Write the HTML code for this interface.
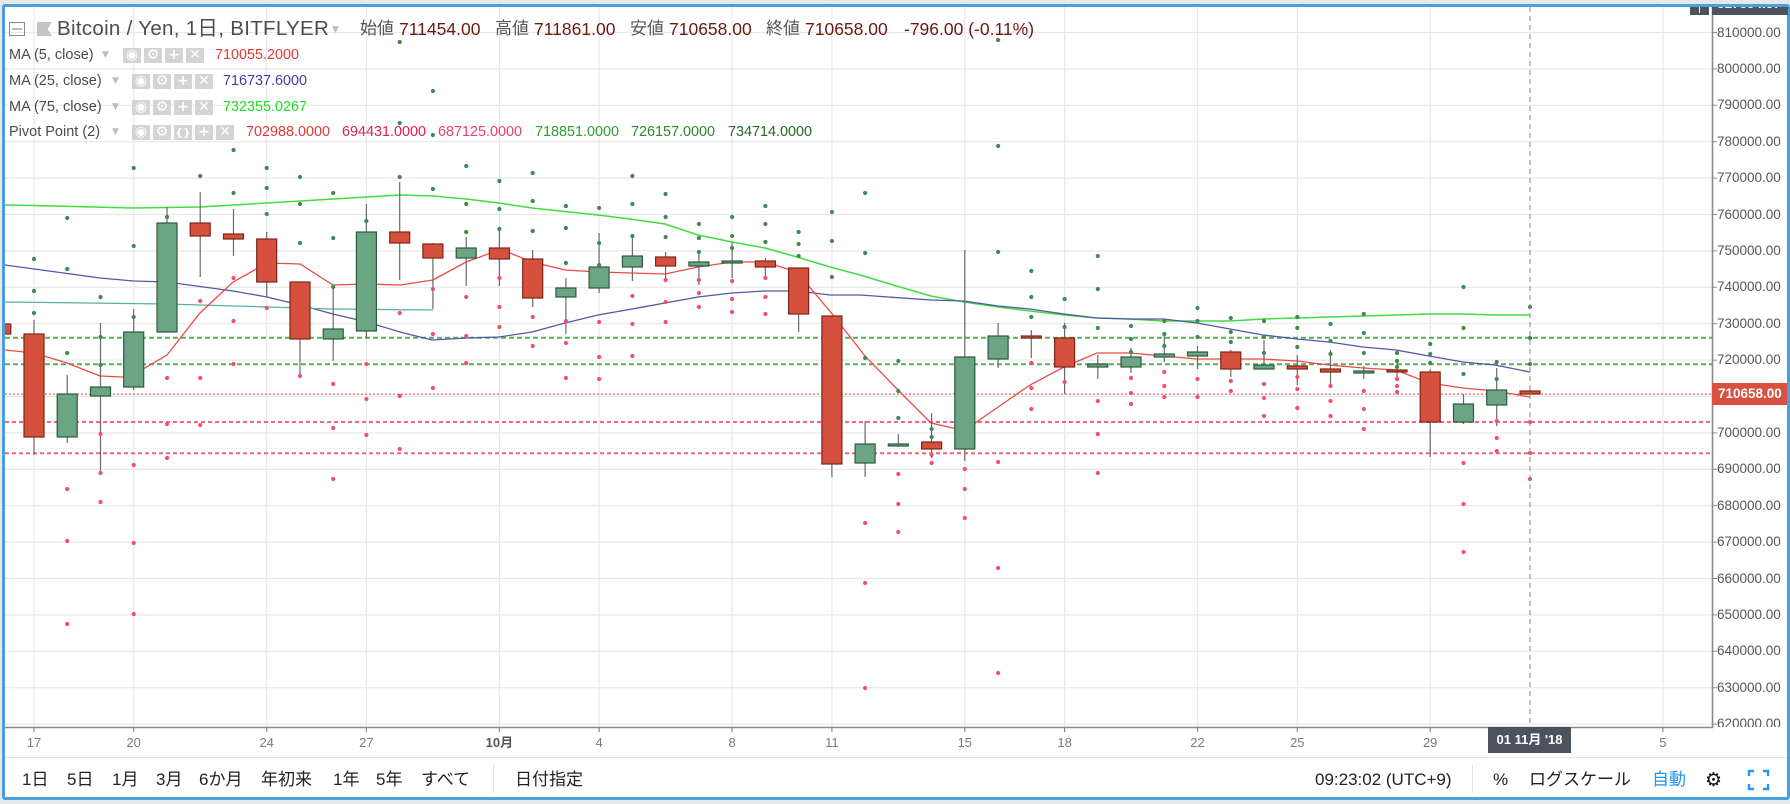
<!DOCTYPE html>
<html><head><meta charset="utf-8">
<style>
*{margin:0;padding:0;box-sizing:border-box}
html,body{width:1790px;height:804px;overflow:hidden;background:#e6e9ec;font-family:"Liberation Sans","Noto Sans CJK JP",sans-serif}
#frame{position:absolute;left:2px;top:4px;width:1788px;height:796px;border:3px solid #4aa0db;border-radius:3px;background:#fff}
.t{position:absolute;white-space:nowrap;line-height:20px;height:20px}
.h1{font-size:20.5px;color:#4d4d4d;letter-spacing:0.3px}
.ol{font-size:17px;color:#555}
.ov{font-size:17.5px;color:#6a1a10}
.lg{font-size:14.5px;color:#4a4a4a}
.lv{font-size:14.4px}
.car{font-size:9px;color:#bdbdbd;font-family:"DejaVu Sans",sans-serif}
.ic{position:absolute;width:18px;height:15px;background:#d4d4d4;color:#fff;font-family:"DejaVu Sans",sans-serif;font-size:14px;line-height:15px;text-align:center;font-weight:bold;overflow:hidden}
.pa{position:absolute;left:1717px;font-size:13.5px;color:#555;line-height:16px;height:16px}
.da{position:absolute;top:735px;font-size:13px;color:#7a7a7a;line-height:16px;width:60px;text-align:center}
.tb{font-size:17px;color:#222}
</style></head><body>
<div id="frame"></div>
<svg width="1790" height="804" style="position:absolute;left:0;top:0">
<defs><clipPath id="c"><rect x="5" y="7" width="1707" height="720"/></clipPath>
<clipPath id="pc"><rect x="1712" y="7" width="76" height="720"/></clipPath></defs>
<g clip-path="url(#c)">
<path d="M5 32.5H1712M5 68.9H1712M5 105.3H1712M5 141.7H1712M5 178.1H1712M5 214.5H1712M5 250.9H1712M5 287.3H1712M5 323.7H1712M5 360.1H1712M5 396.5H1712M5 432.9H1712M5 469.3H1712M5 505.7H1712M5 542.1H1712M5 578.5H1712M5 614.9H1712M5 651.3H1712M5 687.7H1712M5 724.1H1712" stroke="#e8e8e8" stroke-width="1.2" fill="none"/>
<path d="M34 7V727M133.7 7V727M266.7 7V727M366.4 7V727M499.4 7V727M599.1 7V727M732.1 7V727M831.9 7V727M964.8 7V727M1064.6 7V727M1197.5 7V727M1297.3 7V727M1430.2 7V727M1662.9 7V727" stroke="#e8e8e8" stroke-width="1.2" fill="none"/>
<path d="M5 337.7H1712M5 364.3H1712" stroke="#55b255" stroke-width="2" stroke-dasharray="5 3" fill="none"/>
<path d="M5 422H1712M5 453.2H1712" stroke="#f5647c" stroke-width="2" stroke-dasharray="4 3" fill="none"/>
<path d="M5 394.1H1712" stroke="#e53a3a" stroke-width="1" stroke-dasharray="2 2" fill="none"/>
<polyline fill="none" stroke="#40dc40" stroke-width="1.5" points="5,205 34,205.5 133.7,208 200,207 267,203 367,197 400,195 433,196 466,199 499,203 532,208 598,215 630,219 665,224 698,235 732,242 765,248 797,257 830,267 860,275 893,285 931,296 964,302 998,307 1030,311 1064,315 1097,318 1130,319 1163,321 1197,321 1230,321 1263,319 1297,318 1363,316 1429,314 1463,314 1495,315 1530,315"/>
<polyline fill="none" stroke="#5456a8" stroke-width="1.3" points="5,265 100,278 133.7,281 167,282 233,291 267,297 300,305 333,314 367,322 400,332 432,340 466,338 499,337 532,332 565,323 598,315 632,309 665,303 698,297 732,293 765,291 797,291 830,295 860,295 931,300 964,301 998,306 1030,309 1064,314 1097,318 1130,319 1163,319 1197,323 1230,329 1263,335 1297,339 1329,342 1363,347 1396,350 1429,356 1463,362 1495,365 1530,372"/>
<polyline fill="none" stroke="#5aaea6" stroke-width="1.3" points="5,302 167,304 333,309 433,310"/>
<polyline fill="none" stroke="#ee4b43" stroke-width="1.3" points="5,350 34,353 67,363 100,376 123,377 143,369 167,355 200,313 233,282 267,263 300,264 333,285 367,284 400,285 433,280 466,262 499,250 510,253 532,262 565,270 598,272 632,273 665,274 698,267 732,262 765,262 797,272 833,315 865,356 898,390 931,423 957,429 975,423 1030,385 1064,367 1097,353 1130,353 1163,356 1197,359 1230,359 1263,359 1297,361 1329,365 1363,368 1396,370 1429,383 1463,388 1495,391 1530,397"/>
<path stroke="#6a6a6a" stroke-width="1.2" fill="none" d="M0.8 318V340M34 320V455M67.2 375V443M100.5 323V473M133.7 309V390M167 207V332M200.2 192V277M233.5 209V256M266.7 232V297M300 282V377M333.2 287V361M366.4 204V338M399.7 182V280M432.9 243V309M466.2 237V286M499.4 228V286M532.7 250V307M565.9 278V334M599.1 233V293M632.4 237V281M665.6 252V278M698.9 252V285M732.1 242V278M765.4 258V278M798.6 268V332M831.9 316V477M865.1 421V477M898.3 434V447M931.6 413V458M964.8 250V461M998.1 323V368M1031.3 330V358M1064.6 323V394M1097.8 355V379M1131 348V373M1164.3 333V362M1197.5 346V369M1230.8 350V377M1264 340V369M1297.3 355V385M1330.5 350V386M1363.8 366V379M1397 360V377M1430.2 369V457M1463.5 394V424M1496.7 368V426M1530 389V394"/>
<g fill="#d6503e" stroke="#7b2418" stroke-width="1.2">
<rect x="-9.2" y="324" width="20" height="10"/>
<rect x="24" y="334" width="20" height="103"/>
<rect x="190.2" y="223" width="20" height="13"/>
<rect x="223.5" y="234" width="20" height="5"/>
<rect x="256.7" y="239" width="20" height="43"/>
<rect x="290" y="282" width="20" height="57"/>
<rect x="389.7" y="232" width="20" height="11"/>
<rect x="422.9" y="244" width="20" height="14"/>
<rect x="489.4" y="248" width="20" height="11"/>
<rect x="522.7" y="259" width="20" height="39"/>
<rect x="655.6" y="257" width="20" height="9"/>
<rect x="755.4" y="261" width="20" height="6"/>
<rect x="788.6" y="268" width="20" height="46"/>
<rect x="821.9" y="316" width="20" height="148"/>
<rect x="921.6" y="442" width="20" height="7"/>
<rect x="1021.3" y="336" width="20" height="2"/>
<rect x="1054.6" y="338" width="20" height="29"/>
<rect x="1220.8" y="352" width="20" height="17"/>
<rect x="1287.3" y="366" width="20" height="3"/>
<rect x="1320.5" y="369" width="20" height="3"/>
<rect x="1387" y="370" width="20" height="2"/>
<rect x="1420.2" y="372" width="20" height="50"/>
<rect x="1520" y="391" width="20" height="3"/>
</g>
<g fill="#6ba583" stroke="#2b5b3c" stroke-width="1.2">
<rect x="57.2" y="394" width="20" height="43"/>
<rect x="90.5" y="387" width="20" height="9"/>
<rect x="123.7" y="332" width="20" height="55"/>
<rect x="157" y="223" width="20" height="109"/>
<rect x="323.2" y="329" width="20" height="10"/>
<rect x="356.4" y="232" width="20" height="99"/>
<rect x="456.2" y="248" width="20" height="10"/>
<rect x="555.9" y="288" width="20" height="9"/>
<rect x="589.1" y="267" width="20" height="21"/>
<rect x="622.4" y="256" width="20" height="11"/>
<rect x="688.9" y="262" width="20" height="4"/>
<rect x="722.1" y="261" width="20" height="2"/>
<rect x="855.1" y="444" width="20" height="19"/>
<rect x="888.3" y="444" width="20" height="2"/>
<rect x="954.8" y="357" width="20" height="92"/>
<rect x="988.1" y="336" width="20" height="23"/>
<rect x="1087.8" y="364" width="20" height="3"/>
<rect x="1121" y="357" width="20" height="10"/>
<rect x="1154.3" y="354" width="20" height="3"/>
<rect x="1187.5" y="352" width="20" height="4"/>
<rect x="1254" y="365" width="20" height="4"/>
<rect x="1353.8" y="371" width="20" height="2"/>
<rect x="1453.5" y="404" width="20" height="18"/>
<rect x="1486.7" y="390" width="20" height="15"/>
</g>
<path stroke="#3f8a4f" stroke-width="4.2" stroke-linecap="round" fill="none" d="M34 259h.01M34 291h.01M34 313h.01M67.2 218h.01M67.2 269h.01M67.2 353h.01M100.5 297h.01M100.5 337h.01M100.5 365h.01M133.7 168h.01M133.7 246h.01M133.7 317h.01M167 217h.01M200.2 50h.01M200.2 128h.01M200.2 176h.01M233.5 150h.01M233.5 193h.01M266.7 168h.01M266.7 188h.01M266.7 214h.01M300 177h.01M300 204h.01M300 243h.01M333.2 193h.01M333.2 238h.01M333.2 287h.01M366.4 221h.01M399.7 42h.01M399.7 123h.01M399.7 177h.01M432.9 91h.01M432.9 135h.01M432.9 189h.01M466.2 166h.01M466.2 204h.01M466.2 232h.01M499.4 181h.01M499.4 209h.01M499.4 229h.01M532.7 173h.01M532.7 201h.01M532.7 231h.01M565.9 206h.01M565.9 228h.01M565.9 263h.01M599.1 208h.01M599.1 243h.01M599.1 265h.01M632.4 176h.01M632.4 204h.01M632.4 236h.01M665.6 194h.01M665.6 217h.01M665.6 237h.01M698.9 224h.01M698.9 238h.01M698.9 252h.01M732.1 217h.01M732.1 236h.01M732.1 248h.01M765.4 206h.01M765.4 224h.01M765.4 242h.01M798.6 232h.01M798.6 244h.01M798.6 256h.01M831.9 212h.01M831.9 241h.01M831.9 277h.01M865.1 193h.01M865.1 253h.01M865.1 358h.01M898.3 361h.01M898.3 391h.01M898.3 418h.01M931.6 429h.01M931.6 437h.01M998.1 40h.01M998.1 146h.01M998.1 252h.01M1031.3 271h.01M1031.3 297h.01M1031.3 317h.01M1064.6 299h.01M1064.6 327h.01M1097.8 256h.01M1097.8 289h.01M1097.8 328h.01M1131 326h.01M1131 339h.01M1131 352h.01M1164.3 321h.01M1164.3 334h.01M1164.3 346h.01M1197.5 308h.01M1197.5 321h.01M1197.5 337h.01M1230.8 318h.01M1230.8 332h.01M1230.8 342h.01M1264 321h.01M1264 337h.01M1264 353h.01M1297.3 317h.01M1297.3 328h.01M1297.3 347h.01M1330.5 324h.01M1330.5 341h.01M1330.5 354h.01M1363.8 314h.01M1363.8 333h.01M1363.8 353h.01M1397 353h.01M1397 361h.01M1397 367h.01M1430.2 344h.01M1430.2 354h.01M1430.2 363h.01M1463.5 287h.01M1463.5 328h.01M1463.5 374h.01M1496.7 362h.01M1496.7 379h.01M1530 307h.01M1530 338h.01M1530 364h.01"/>
<path stroke="#f2506e" stroke-width="4.2" stroke-linecap="round" fill="none" d="M67.2 489h.01M67.2 541h.01M67.2 624h.01M100.5 434h.01M100.5 473h.01M100.5 502h.01M133.7 465h.01M133.7 543h.01M133.7 614h.01M167 378h.01M167 424h.01M167 458h.01M200.2 301h.01M200.2 378h.01M200.2 425h.01M233.5 278h.01M233.5 321h.01M233.5 364h.01M266.7 308h.01M300 376h.01M333.2 384h.01M333.2 428h.01M333.2 479h.01M366.4 364h.01M366.4 399h.01M366.4 435h.01M399.7 313h.01M399.7 396h.01M399.7 449h.01M432.9 289h.01M432.9 334h.01M432.9 388h.01M466.2 297h.01M466.2 336h.01M466.2 363h.01M499.4 278h.01M499.4 307h.01M499.4 327h.01M532.7 317h.01M532.7 346h.01M565.9 321h.01M565.9 343h.01M565.9 378h.01M599.1 322h.01M599.1 357h.01M599.1 379h.01M632.4 296h.01M632.4 324h.01M632.4 356h.01M665.6 280h.01M665.6 302h.01M665.6 322h.01M698.9 280h.01M698.9 293h.01M698.9 307h.01M732.1 281h.01M732.1 299h.01M732.1 312h.01M765.4 278h.01M765.4 297h.01M765.4 314h.01M865.1 523h.01M865.1 583h.01M865.1 688h.01M898.3 474h.01M898.3 504h.01M898.3 532h.01M931.6 455h.01M931.6 463h.01M964.8 469h.01M964.8 489h.01M964.8 518h.01M998.1 462h.01M998.1 568h.01M998.1 673h.01M1031.3 363h.01M1031.3 388h.01M1031.3 409h.01M1064.6 382h.01M1097.8 401h.01M1097.8 434h.01M1097.8 473h.01M1131 378h.01M1131 393h.01M1131 404h.01M1164.3 372h.01M1164.3 386h.01M1164.3 397h.01M1197.5 379h.01M1197.5 397h.01M1230.8 381h.01M1230.8 391h.01M1264 384h.01M1264 398h.01M1264 416h.01M1297.3 377h.01M1297.3 389h.01M1297.3 408h.01M1330.5 386h.01M1330.5 401h.01M1330.5 416h.01M1363.8 391h.01M1363.8 409h.01M1363.8 429h.01M1397 379h.01M1397 386h.01M1397 392h.01M1463.5 463h.01M1463.5 504h.01M1463.5 552h.01M1496.7 421h.01M1496.7 438h.01M1496.7 451h.01M1530 422h.01M1530 453h.01M1530 479h.01"/>
<path d="M1530 7V727" stroke="#888" stroke-width="1" stroke-dasharray="5 4" fill="none"/>
</g>
<path d="M5 727.5H1713M1712.5 7V728" stroke="#8a8a8a" stroke-width="1.6" fill="none"/>
<path d="M1712 32.5h5M1712 68.9h5M1712 105.3h5M1712 141.7h5M1712 178.1h5M1712 214.5h5M1712 250.9h5M1712 287.3h5M1712 323.7h5M1712 360.1h5M1712 396.5h5M1712 432.9h5M1712 469.3h5M1712 505.7h5M1712 542.1h5M1712 578.5h5M1712 614.9h5M1712 651.3h5M1712 687.7h5M1712 724.1h5" stroke="#8a8a8a" stroke-width="1" fill="none" clip-path="url(#pc)"/>
<path d="M34 727V732M133.7 727V732M266.7 727V732M366.4 727V732M499.4 727V732M599.1 727V732M732.1 727V732M831.9 727V732M964.8 727V732M1064.6 727V732M1197.5 727V732M1297.3 727V732M1430.2 727V732M1662.9 727V732" stroke="#8a8a8a" stroke-width="1.2" fill="none"/>
<path d="M5 757.5H1787M493.5 765V793M1472.5 765V793" stroke="#e2e4e6" stroke-width="1" fill="none"/>
<polygon points="37,22 52,22 47.5,29 52,36 37,36" fill="#c4c4c4"/>
<rect x="9.5" y="22.5" width="15" height="13" fill="none" stroke="#8a8a8a" stroke-width="1"/>
<path d="M12 29H22" stroke="#8a8a8a" stroke-width="1.2"/>
<path d="M1749 776V771H1754M1763 771H1768V776M1768 784V789H1763M1754 789H1749V784" stroke="#2196f3" stroke-width="2.4" fill="none"/>
<rect x="1690" y="7" width="19" height="8" fill="#4c525e"/>
<path d="M1699.5 7V13" stroke="#fff" stroke-width="1"/>
</svg>

<!-- header row -->
<div class="t h1" style="left:57px;top:19px">Bitcoin / Yen, 1日, BITFLYER</div>
<div class="t car" style="left:332px;top:20px">▼</div>
<div class="t ol" style="left:360px;top:19px">始値</div><div class="t ov" style="left:399px;top:19px">711454.00</div>
<div class="t ol" style="left:495px;top:19px">高値</div><div class="t ov" style="left:534px;top:19px">711861.00</div>
<div class="t ol" style="left:630px;top:19px">安値</div><div class="t ov" style="left:669px;top:19px">710658.00</div>
<div class="t ol" style="left:766px;top:19px">終値</div><div class="t ov" style="left:805px;top:19px">710658.00</div>
<div class="t ov" style="left:904px;top:19px">-796.00 (-0.11%)</div>

<!-- MA5 -->
<div class="t lg" style="left:9px;top:45px">MA (5, close)</div>
<div class="t car" style="left:102px;top:45px">▼</div>
<div class="ic" style="left:123px;top:48px">◉</div><div class="ic" style="left:144px;top:48px">⚙</div><div class="ic" style="left:165px;top:48px">+</div><div class="ic" style="left:186px;top:48px">✕</div>
<div class="t lv" style="left:215px;top:45px;color:#e53935">710055.2000</div>
<!-- MA25 -->
<div class="t lg" style="left:9px;top:71px">MA (25, close)</div>
<div class="t car" style="left:112px;top:71px">▼</div>
<div class="ic" style="left:132px;top:74px">◉</div><div class="ic" style="left:153px;top:74px">⚙</div><div class="ic" style="left:174px;top:74px">+</div><div class="ic" style="left:195px;top:74px">✕</div>
<div class="t lv" style="left:223px;top:71px;color:#3f3fa0">716737.6000</div>
<!-- MA75 -->
<div class="t lg" style="left:9px;top:97px">MA (75, close)</div>
<div class="t car" style="left:112px;top:97px">▼</div>
<div class="ic" style="left:132px;top:100px">◉</div><div class="ic" style="left:153px;top:100px">⚙</div><div class="ic" style="left:174px;top:100px">+</div><div class="ic" style="left:195px;top:100px">✕</div>
<div class="t lv" style="left:223px;top:97px;color:#22dd22">732355.0267</div>
<!-- Pivot -->
<div class="t lg" style="left:9px;top:122px">Pivot Point (2)</div>
<div class="t car" style="left:112px;top:122px">▼</div>
<div class="ic" style="left:132px;top:125px">◉</div><div class="ic" style="left:153px;top:125px">⚙</div><div class="ic" style="left:174px;top:125px;font-size:11px">{}</div><div class="ic" style="left:195px;top:125px">+</div><div class="ic" style="left:216px;top:125px">✕</div>
<div class="t lv" style="left:246px;top:122px;color:#e53935">702988.0000</div>
<div class="t lv" style="left:342px;top:122px;color:#e2204c">694431.0000</div>
<div class="t lv" style="left:438px;top:122px;color:#e83e7c">687125.0000</div>
<div class="t lv" style="left:535px;top:122px;color:#2e9e2e">718851.0000</div>
<div class="t lv" style="left:631px;top:122px;color:#2a8a2a">726157.0000</div>
<div class="t lv" style="left:728px;top:122px;color:#1f6b1f">734714.0000</div>

<!-- price axis -->
<div style="position:absolute;left:1712px;top:7px;width:76px;height:720px;overflow:hidden">
<div style="position:absolute;left:0;top:0;width:76px;height:8px;background:#4c525e;overflow:hidden"><div style="position:absolute;left:5px;top:-11px;font-size:13.5px;font-weight:bold;color:#fff;line-height:16px">817354.57</div></div>
</div>
<div style="position:absolute;left:1712px;top:7px;width:76px;height:720px;overflow:hidden">
<div class="pa" style="left:5px;top:17.5px">810000.00</div>
<div class="pa" style="left:5px;top:53.9px">800000.00</div>
<div class="pa" style="left:5px;top:90.3px">790000.00</div>
<div class="pa" style="left:5px;top:126.7px">780000.00</div>
<div class="pa" style="left:5px;top:163.1px">770000.00</div>
<div class="pa" style="left:5px;top:199.5px">760000.00</div>
<div class="pa" style="left:5px;top:235.9px">750000.00</div>
<div class="pa" style="left:5px;top:272.3px">740000.00</div>
<div class="pa" style="left:5px;top:308.7px">730000.00</div>
<div class="pa" style="left:5px;top:345.1px">720000.00</div>
<div class="pa" style="left:5px;top:417.9px">700000.00</div>
<div class="pa" style="left:5px;top:454.3px">690000.00</div>
<div class="pa" style="left:5px;top:490.7px">680000.00</div>
<div class="pa" style="left:5px;top:527.1px">670000.00</div>
<div class="pa" style="left:5px;top:563.5px">660000.00</div>
<div class="pa" style="left:5px;top:599.9px">650000.00</div>
<div class="pa" style="left:5px;top:636.3px">640000.00</div>
<div class="pa" style="left:5px;top:672.7px">630000.00</div>
<div class="pa" style="left:5px;top:709.1px">620000.00</div>
</div>
<div style="position:absolute;left:1712px;top:383px;width:75px;height:22px;background:#d9503f;color:#fff;font-weight:bold;font-size:13.5px;line-height:22px;padding-left:6px">710658.00</div>

<!-- time axis -->
<div class="da" style="left:4px">17</div>
<div class="da" style="left:103.7px">20</div>
<div class="da" style="left:236.7px">24</div>
<div class="da" style="left:336.4px">27</div>
<div class="da" style="left:469.4px;font-weight:bold;color:#555">10月</div>
<div class="da" style="left:569.1px">4</div>
<div class="da" style="left:702.1px">8</div>
<div class="da" style="left:801.9px">11</div>
<div class="da" style="left:934.8px">15</div>
<div class="da" style="left:1034.6px">18</div>
<div class="da" style="left:1167.5px">22</div>
<div class="da" style="left:1267.3px">25</div>
<div class="da" style="left:1400.2px">29</div>
<div class="da" style="left:1632.9px">5</div>
<div style="position:absolute;left:1488px;top:727px;width:83px;height:26px;background:#4c525e;color:#fff;font-weight:bold;font-size:13px;line-height:26px;text-align:center">01 11月 '18</div>

<!-- bottom toolbar -->
<div class="t tb" style="left:22px;top:770px">1日</div>
<div class="t tb" style="left:67px;top:770px">5日</div>
<div class="t tb" style="left:112px;top:770px">1月</div>
<div class="t tb" style="left:156px;top:770px">3月</div>
<div class="t tb" style="left:199px;top:770px">6か月</div>
<div class="t tb" style="left:261px;top:770px">年初来</div>
<div class="t tb" style="left:333px;top:770px">1年</div>
<div class="t tb" style="left:376px;top:770px">5年</div>
<div class="t tb" style="left:421px;top:770px">すべて</div>
<div class="t tb" style="left:515px;top:770px">日付指定</div>
<div class="t tb" style="left:1315px;top:770px">09:23:02 (UTC+9)</div>
<div class="t tb" style="left:1493px;top:770px">%</div>
<div class="t tb" style="left:1529px;top:770px">ログスケール</div>
<div class="t tb" style="left:1652px;top:770px;color:#2196f3">自動</div>
<div class="t" style="left:1705px;top:769px;font-size:19px;color:#111;font-family:'DejaVu Sans',sans-serif;line-height:22px">⚙</div>
</body></html>
